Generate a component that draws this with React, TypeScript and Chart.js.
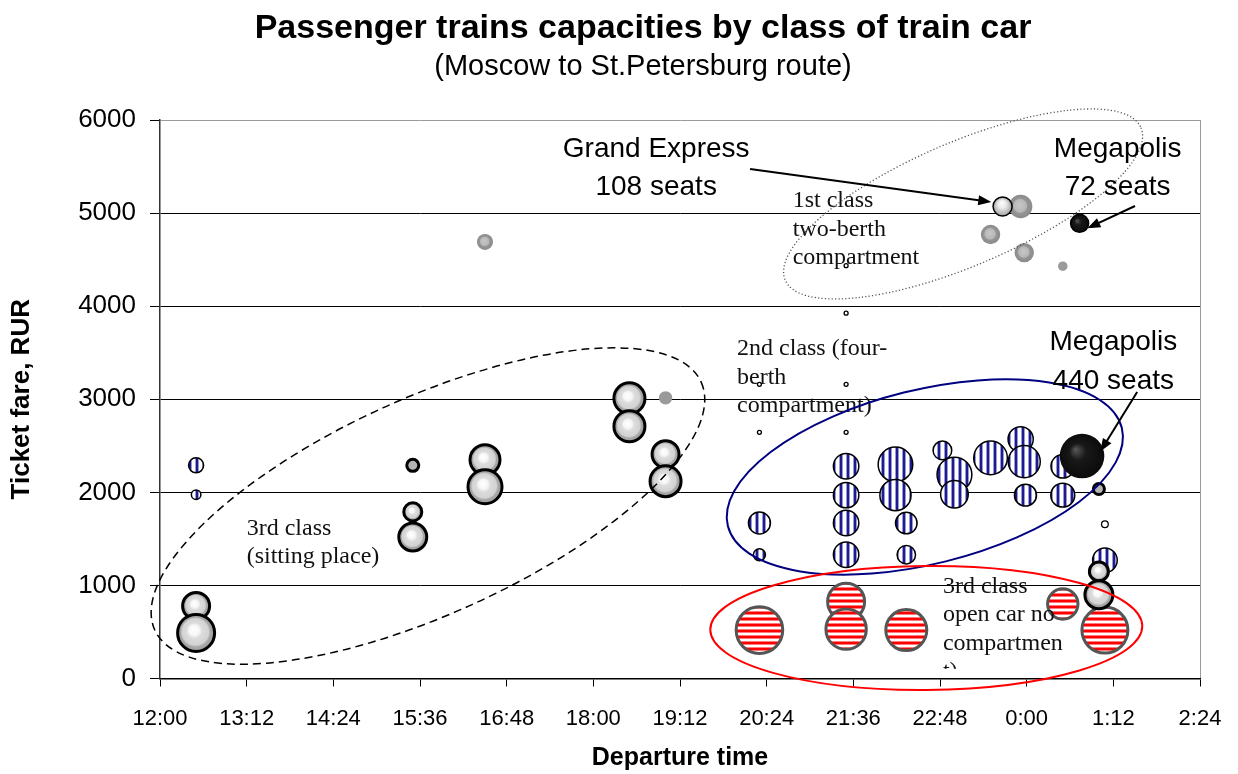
import React, { useEffect, useRef } from 'react';
import { Chart, registerables } from 'chart.js';

Chart.register(...registerables);

// ---------- data ----------
const xTickLabels = ['12:00', '13:12', '14:24', '15:36', '16:48', '18:00', '19:12', '20:24', '21:36', '22:48', '0:00', '1:12', '2:24'];
const yTicks = [0, 1000, 2000, 3000, 4000, 5000, 6000];

// 3rd class (sitting place)
const sittingTimes = ['12:30', '12:30', '15:30', '15:30', '15:30', '16:30', '16:30', '18:30', '18:30', '19:00', '19:00', '1:00', '1:00', '1:00'];
const sittingFares = [780, 490, 2290, 1790, 1520, 2350, 2060, 3010, 2710, 2410, 2120, 2035, 1150, 900];
const sittingSizes = [161, 303, 32, 72, 173, 199, 256, 213, 213, 161, 213, 27, 80, 173];

// 2nd class (four-berth compartment)
const secondTimes = ['12:30', '12:30', '20:18', '20:18', '21:30', '21:30', '21:30', '21:30', '22:11', '22:11', '22:20', '22:20', '22:50', '23:00', '23:00', '23:30', '23:55', '23:58', '23:59', '0:30', '0:30', '1:05'];
const secondFares = [2290, 1975, 1670, 1330, 2280, 1970, 1670, 1330, 2300, 1970, 1670, 1330, 2450, 2190, 1980, 2370, 2570, 2330, 1970, 2280, 1970, 1270];
const secondSizes = [50, 20, 107, 32, 143, 143, 143, 143, 265, 215, 103, 75, 77, 268, 169, 250, 140, 227, 107, 123, 127, 134];

// 3rd class open car
const openTimes = ['20:18', '21:30', '21:30', '22:20', '0:30', '1:05'];
const openFares = [520, 825, 530, 520, 800, 520];
const openSizes = [480, 303, 361, 372, 204, 468];

// 1st class two-berth compartment (and other premium)
const firstTimes = ['23:55', '23:30', '23:58', '0:30', '16:30', '19:00'];
const firstFares = [5070, 4770, 4575, 4430, 4690, 3015];
const firstSizes = [121, 83, 83, 20, 57, 40];

// Grand Express
const grandTimes = ['23:40'];
const grandFares = [5070];
const grandSizes = [80];

// Megapolis
const megaTimes = ['0:46', '0:44'];
const megaFares = [2390, 4890];
const megaSizes = [440, 72];

// tiny cars
const tinyTimes = ['20:18', '20:18', '21:30', '21:30', '21:30', '21:30', '1:05'];
const tinyFares = [3160, 2645, 4435, 3925, 3160, 2645, 1657];
const tinySizes = [3.5, 3.5, 3.5, 3.5, 3.5, 3.5, 10];

// ---------- helpers ----------
const SIZE_SCALE = 1.063;

function toHours(t: string): number {
  const [h, m] = t.split(':').map(Number);
  const hh = h < 12 ? h + 24 : h;
  return hh - 12 + m / 60;
}

function points(times: string[], fares: number[], sizes: number[]) {
  return times.map((t, i) => ({ x: toHours(t), y: fares[i], r: Math.sqrt(sizes[i]) * SIZE_SCALE }));
}

function stripes(vertical: boolean, colors: string[]): CanvasPattern | string {
  const c = document.createElement('canvas');
  c.width = vertical ? colors.length : 1;
  c.height = vertical ? 1 : colors.length;
  const g = c.getContext('2d');
  if (!g) return colors[0];
  colors.forEach((col, i) => {
    g.fillStyle = col;
    if (vertical) g.fillRect(i, 0, 1, 1);
    else g.fillRect(0, i, 1, 1);
  });
  return g.createPattern(c, 'repeat') || colors[0];
}

function radial(stops: [number, string][], hx: number, hy: number, flat: string, minR = 0) {
  return (ctx: any) => {
    const raw = ctx.raw;
    if (!raw || ctx.type !== 'data') return flat;
    const chart = ctx.chart;
    const xs = chart.scales.x;
    const ys = chart.scales.y;
    if (!xs || !ys) return flat;
    const cx = xs.getPixelForValue(raw.x);
    const cy = ys.getPixelForValue(raw.y);
    const r = raw.r;
    if (!isFinite(cx) || !isFinite(cy) || r < minR) return flat;
    const g = chart.ctx.createRadialGradient(cx + hx * r, cy + hy * r, 0, cx, cy, r);
    stops.forEach(([o, c]) => g.addColorStop(o, c));
    return g;
  };
}

// ---------- annotations ----------
const ellipses = [
  { x: 3.71, y: 1853, rx: 300, ry: 108, angle: -24.4, color: '#000000', width: 1.5, dash: [8, 5] },
  { x: 11.12, y: 5098, rx: 193.5, ry: 61.7, angle: -23.2, color: '#555555', width: 1.3, dash: [1.2, 2.2] },
  { x: 10.59, y: 2165, rx: 203, ry: 87, angle: -14, color: '#000080', width: 2, dash: [] as number[] },
  { x: 10.61, y: 543, rx: 216, ry: 62, angle: -0.5, color: '#ff0000', width: 2, dash: [] as number[] },
];

const arrows = [
  { x1: 8.17, y1: 5474, x2: 11.51, y2: 5119 },
  { x1: 13.5, y1: 5076, x2: 12.84, y2: 4837 },
  { x1: 13.53, y1: 3078, x2: 13.02, y2: 2438 },
];

const sansLabels = [
  { lines: ['Grand Express', '108 seats'], x: 6.87, y: 5606 },
  { lines: ['Megapolis', '72 seats'], x: 13.26, y: 5606 },
  { lines: ['Megapolis', '440 seats'], x: 13.2, y: 3529 },
];

const serifLabels = [
  { lines: ['3rd class', '(sitting place)'], x: 1.2, y: 1542, clipY: 0 },
  { lines: ['1st class', 'two-berth', 'compartment'], x: 8.76, y: 5062, clipY: 0 },
  { lines: ['2nd class (four-', 'berth', 'compartment)'], x: 7.99, y: 3475, clipY: 0 },
  { lines: ['3rd class', 'open car no', 'compartmen', 't)'], x: 10.84, y: 919, clipY: 105 },
];

const SANS = '"Liberation Sans", Arial, sans-serif';
const SERIF = '"Liberation Serif", "Times New Roman", serif';

const overlayPlugin = {
  id: 'overlay',
  afterDatasetsDraw(chart: any) {
    const ctx: CanvasRenderingContext2D = chart.ctx;
    const xs = chart.scales.x;
    const ys = chart.scales.y;
    const area = chart.chartArea;

    // serif labels (clipped to their boxes inside the plot area)
    serifLabels.forEach((l) => {
      ctx.save();
      const bottom = ys.getPixelForValue(l.clipY);
      ctx.beginPath();
      ctx.rect(area.left, area.top, area.right - area.left, bottom - area.top);
      ctx.clip();
      ctx.font = `24px ${SERIF}`;
      ctx.fillStyle = '#111';
      ctx.textAlign = 'left';
      ctx.textBaseline = 'alphabetic';
      const px = xs.getPixelForValue(l.x);
      const py = ys.getPixelForValue(l.y);
      l.lines.forEach((s, i) => ctx.fillText(s, px, py + i * 28.5));
      ctx.restore();
    });

    // ellipses
    ellipses.forEach((e) => {
      ctx.save();
      ctx.beginPath();
      ctx.ellipse(xs.getPixelForValue(e.x), ys.getPixelForValue(e.y), e.rx, e.ry, (e.angle * Math.PI) / 180, 0, Math.PI * 2);
      ctx.strokeStyle = e.color;
      ctx.lineWidth = e.width;
      ctx.setLineDash(e.dash);
      ctx.stroke();
      ctx.restore();
    });

    // sans labels
    ctx.save();
    ctx.font = `28px ${SANS}`;
    ctx.fillStyle = '#000';
    ctx.textAlign = 'center';
    ctx.textBaseline = 'alphabetic';
    sansLabels.forEach((l) => {
      const px = xs.getPixelForValue(l.x);
      const py = ys.getPixelForValue(l.y);
      l.lines.forEach((s, i) => ctx.fillText(s, px, py + i * 38.5));
    });
    ctx.restore();

    // arrows
    ctx.save();
    ctx.strokeStyle = '#000';
    ctx.fillStyle = '#000';
    ctx.lineWidth = 2;
    arrows.forEach((a) => {
      const x1 = xs.getPixelForValue(a.x1);
      const y1 = ys.getPixelForValue(a.y1);
      const x2 = xs.getPixelForValue(a.x2);
      const y2 = ys.getPixelForValue(a.y2);
      const ang = Math.atan2(y2 - y1, x2 - x1);
      const hl = 13;
      const hw = 5;
      const c = Math.cos(ang);
      const s = Math.sin(ang);
      ctx.beginPath();
      ctx.moveTo(x1, y1);
      ctx.lineTo(x2 - hl * 0.7 * c, y2 - hl * 0.7 * s);
      ctx.stroke();
      ctx.beginPath();
      ctx.moveTo(x2, y2);
      ctx.lineTo(x2 - hl * c + hw * s, y2 - hl * s - hw * c);
      ctx.lineTo(x2 - hl * c - hw * s, y2 - hl * s + hw * c);
      ctx.closePath();
      ctx.fill();
    });
    ctx.restore();
  },
  afterDraw(chart: any) {
    const ctx: CanvasRenderingContext2D = chart.ctx;
    ctx.save();
    ctx.fillStyle = '#000';
    ctx.textAlign = 'center';
    ctx.textBaseline = 'alphabetic';
    ctx.font = `bold 34px ${SANS}`;
    ctx.fillText('Passenger trains capacities by class of train car', 643, 38);
    ctx.font = `29px ${SANS}`;
    ctx.fillText('(Moscow to St.Petersburg route)', 643, 75);
    ctx.restore();
  },
};

export default function App() {
  const ref = useRef<HTMLCanvasElement>(null);

  useEffect(() => {
    document.body.style.margin = '0';
    const canvas = ref.current;
    if (!canvas) return;

    const bluePattern = stripes(true, ['#1c1c8e', '#1c1c8e', '#9a9ad6', '#ffffff', '#ffffff', '#ffffff', '#9a9ad6']);
    const redPattern = stripes(false, ['#ff0000', '#ff0000', '#ff7a7a', '#ffffff', '#ffffff', '#ff7a7a']);

    const sittingBg = radial(
      [[0, '#ffffff'], [0.28, '#f6f6f6'], [0.42, '#dcdcdc'], [0.72, '#d2d2d2'], [0.8, '#a8a8a8'], [1, '#9c9c9c']],
      -0.15, -0.2, '#b4b4b4', 8
    );
    const firstBg = radial(
      [[0, '#c8c8c8'], [0.55, '#b6b6b6'], [0.63, '#959595'], [1, '#8a8a8a']],
      -0.12, -0.15, '#9a9a9a', 7
    );
    const grandBg = radial([[0, '#ffffff'], [0.45, '#e8e8e8'], [1, '#a0a0a0']], -0.1, -0.45, '#d0d0d0');
    const megaBg = radial([[0, '#5a5a5a'], [0.18, '#3a3a3a'], [0.38, '#181818'], [1, '#0b0b0b']], -0.3, -0.3, '#111111');

    const chart = new Chart(canvas, {
      type: 'bubble',
      data: {
        datasets: [
          {
            label: 'Megapolis',
            data: points(megaTimes, megaFares, megaSizes),
            backgroundColor: megaBg as any,
            borderColor: '#000',
            borderWidth: ((c: any) => (c.raw && c.raw.r < 15 ? 1.5 : 0)) as any,
          },
          {
            label: '3rd class (sitting place)',
            data: points(sittingTimes, sittingFares, sittingSizes),
            backgroundColor: sittingBg as any,
            borderColor: '#000',
            borderWidth: 3,
          },
          {
            label: 'Grand Express',
            data: points(grandTimes, grandFares, grandSizes),
            backgroundColor: grandBg as any,
            borderColor: '#000',
            borderWidth: 1.5,
          },
          {
            label: '1st class two-berth compartment',
            data: points(firstTimes, firstFares, firstSizes),
            backgroundColor: firstBg as any,
            borderWidth: 0,
          },
          {
            label: 'other',
            data: points(tinyTimes, tinyFares, tinySizes),
            backgroundColor: '#ffffff',
            borderColor: '#000',
            borderWidth: 1.3,
          },
          {
            label: '3rd class open car',
            data: points(openTimes, openFares, openSizes),
            backgroundColor: redPattern as any,
            borderColor: '#555555',
            borderWidth: 3,
          },
          {
            label: '2nd class (four-berth compartment)',
            data: points(secondTimes, secondFares, secondSizes),
            backgroundColor: bluePattern as any,
            borderColor: '#000',
            borderWidth: 1.5,
          },
        ],
      },
      options: {
        responsive: false,
        animation: false,
        events: [],
        layout: { padding: { top: 120, right: 38, left: 0, bottom: 0 } },
        plugins: {
          legend: { display: false },
          tooltip: { enabled: false },
          title: { display: false },
        },
        scales: {
          x: {
            type: 'linear',
            min: 0,
            max: 14.4,
            afterBuildTicks: (s: any) => {
              s.ticks = xTickLabels.map((l) => ({ value: toHours(l) }));
            },
            afterFit: (s: any) => {
              s.height = 95.5;
              s.paddingLeft = 0;
              s.paddingRight = 0;
            },
            ticks: {
              autoSkip: false,
              maxRotation: 0,
              padding: 19,
              color: '#000',
              font: { family: SANS, size: 22 },
              callback: (_v: any, i: number) => xTickLabels[i],
            },
            grid: {
              drawOnChartArea: true,
              color: (c: any) => (c.index === xTickLabels.length - 1 ? '#9a9a9a' : 'rgba(0,0,0,0)'),
              tickColor: '#000',
              tickLength: 8,
              lineWidth: 1,
            },
            border: { display: true, color: '#000', width: 1.5 },
            title: {
              display: true,
              text: 'Departure time',
              color: '#000',
              font: { family: SANS, size: 25, weight: 'bold' },
              padding: { top: 0, bottom: 1 },
            },
          },
          y: {
            type: 'linear',
            min: 0,
            max: 6000,
            afterBuildTicks: (s: any) => {
              s.ticks = yTicks.map((v) => ({ value: v }));
            },
            afterFit: (s: any) => {
              s.width = 160;
            },
            ticks: {
              padding: 14,
              color: '#000',
              font: { family: SANS, size: 26 },
              callback: (v: any) => String(v),
            },
            grid: {
              color: (c: any) => (c.tick && c.tick.value === 6000 ? '#9a9a9a' : '#000'),
              tickColor: '#000',
              tickLength: 10,
              lineWidth: 1,
            },
            border: { display: true, color: '#333', width: 1.5 },
            title: {
              display: true,
              text: 'Ticket fare, RUR',
              color: '#000',
              font: { family: SANS, size: 26, weight: 'bold' },
              padding: { top: 6, bottom: 0 },
            },
          },
        },
      },
      plugins: [overlayPlugin],
    });

    return () => chart.destroy();
  }, []);

  return (
    <div style={{ width: 1238, height: 774, background: '#fff' }}>
      <canvas ref={ref} width={1238} height={774} />
    </div>
  );
}
